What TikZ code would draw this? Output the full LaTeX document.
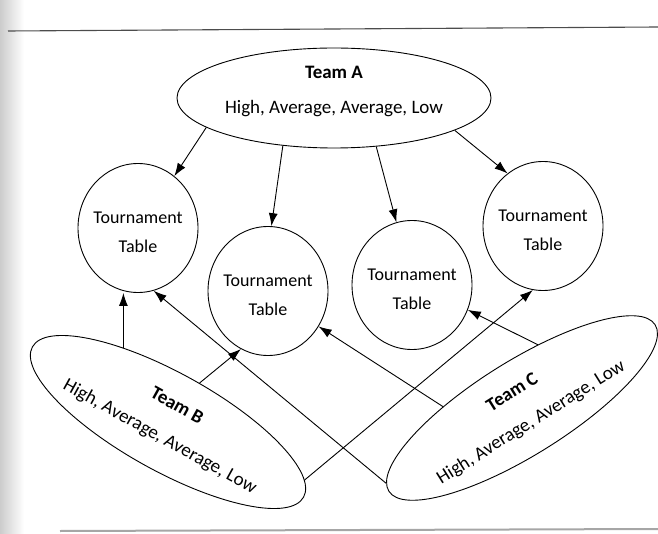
\documentclass[tikz,border=0pt]{standalone}
\usepackage{fontspec}
\setmainfont{Carlito}
\usetikzlibrary{shapes.geometric,arrows.meta}
\begin{document}
\begin{tikzpicture}[x=1pt,y=-1pt,
  team/.style={draw,ellipse,line width=0.9pt,inner sep=-4pt,align=center,font=\fontsize{19}{35}\selectfont},
  tablebox/.style={draw,ellipse,line width=0.9pt,inner sep=-4pt,minimum width=120pt,minimum height=129pt,align=center,text height=50pt,font=\fontsize{18}{29}\selectfont},
  arr/.style={-{Latex[length=13pt,width=9pt]},line width=0.9pt}]
\useasboundingbox (0,0) rectangle (658,534);
% page edge and rules of the scan
\shade[left color=gray!40,right color=white] (0,0) rectangle (24,534);
\draw[gray!60!black,line width=1.1pt] (8,31) -- (658,27);
\draw[gray!70,line width=2pt] (60,531) -- (658,529);
% teams
\node[team,minimum width=314pt,minimum height=100pt,text depth=17pt] (teamA) at (334,98) {\textbf{Team A}\\High, Average, Average, Low};
\node[team,minimum width=310pt,minimum height=98pt,rotate=-29] (teamB) at (168,422) {\textbf{Team B}\\High, Average, Average, Low};
\node[team,minimum width=314pt,minimum height=94pt,rotate=32] (teamC) at (522,408) {\textbf{Team C}\\High, Average, Average, Low};
% tables
\node[tablebox] (table1) at (138,228) {Tournament\\Table};
\node[tablebox] (table2) at (268,291) {Tournament\\Table};
\node[tablebox] (table3) at (412,285) {Tournament\\Table};
\node[tablebox] (table4) at (543,226) {Tournament\\Table};
% arrows
\draw[arr] (teamA.193) -- (table1.55);
\draw[arr] (teamA.223) -- (table2.87);
\draw[arr] (teamA.311) -- (table3.104);
\draw[arr] (teamA.345) -- (table4.124);
\draw[arr] (teamB.150) -- (teamB.150 |- table1.south);
\draw[arr] (teamB.80) -- (table2.245);
\draw[arr] (teamB.6) -- (table4.261);
\draw[arr] (teamC.177) -- (table1.284);
\draw[arr] (teamC.147) -- (table2.325);
\draw[arr] (teamC.44) -- (table3.336);
\end{tikzpicture}
\end{document}
